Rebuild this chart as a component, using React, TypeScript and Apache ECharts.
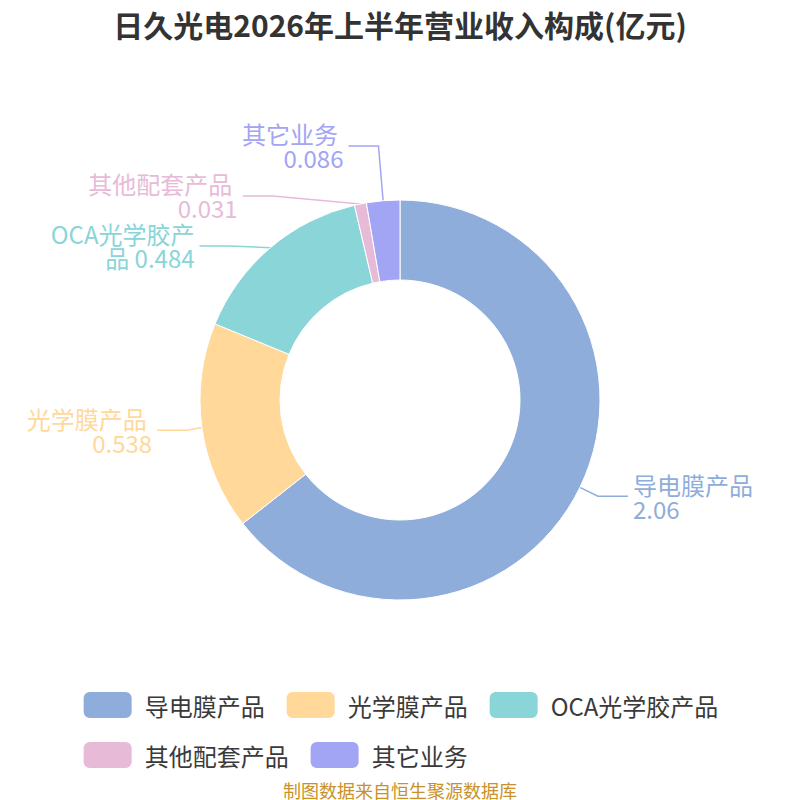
import React, { useEffect, useRef } from "react";
import * as echarts from "echarts";

const titleText = "日久光电2026年上半年营业收入构成(亿元)";
const sourceText = "制图数据来自恒生聚源数据库";
const categories = ["导电膜产品", "光学膜产品", "OCA光学胶产品", "其他配套产品", "其它业务"];
const values = [2.06, 0.538, 0.484, 0.031, 0.086];
const colors = ["#8FADDB", "#FFD89A", "#89D5D8", "#E7BBD8", "#A2A4F4"];
const lineLengths = [20, 20, 20, 20, 55];

export default function App() {
  const ref = useRef<HTMLDivElement>(null);
  useEffect(() => {
    if (!ref.current) return;
    const chart = echarts.init(ref.current, undefined, { renderer: "svg" });
    const font = "'Noto Sans CJK SC', 'Noto Sans', sans-serif";
    chart.setOption({
      animation: false,
      color: colors,
      textStyle: { fontFamily: font },
      title: {
        text: titleText,
        left: "center",
        top: 4,
        textStyle: { fontSize: 30, fontWeight: "bold", color: "#333333", fontFamily: font },
      },
      legend: {
        bottom: 25,
        left: "center",
        itemWidth: 50,
        itemHeight: 28,
        itemGap: 20,
        itemStyle: { borderRadius: 6 },
        textStyle: { fontSize: 24, color: "#3a3a3a", fontFamily: font, padding: [0, 0, 0, 7] },
        data: categories,
      },
      graphic: [
        {
          type: "text",
          left: "center",
          top: 780,
          style: { text: sourceText, fontSize: 18, lineHeight: 19, fill: "#C8912A", fontFamily: font },
        },
      ],
      series: [
        {
          type: "pie",
          center: ["50%", "50%"],
          radius: ["30%", "50%"],
          startAngle: 90,
          clockwise: true,
          itemStyle: { borderColor: "#ffffff", borderWidth: 1 },
          label: {
            show: true,
            formatter: "{b} {c}",
            fontSize: 24,
            lineHeight: 24,
            width: 155,
            overflow: "break",
            color: "inherit",
            fontFamily: font,
            distanceToLabelLine: 5,
          },
          labelLine: { show: true, length: 20, length2: 30, lineStyle: { width: 1.5 } },
          data: categories.map((name, i) => ({
            name,
            value: values[i],
            label: { color: colors[i] },
            labelLine: { length: lineLengths[i] },
          })),
        },
      ],
    });
    return () => chart.dispose();
  }, []);
  return (
    <div
      ref={ref}
      style={{ width: 800, height: 800, position: "absolute", left: 0, top: 0 }}
    />
  );
}
